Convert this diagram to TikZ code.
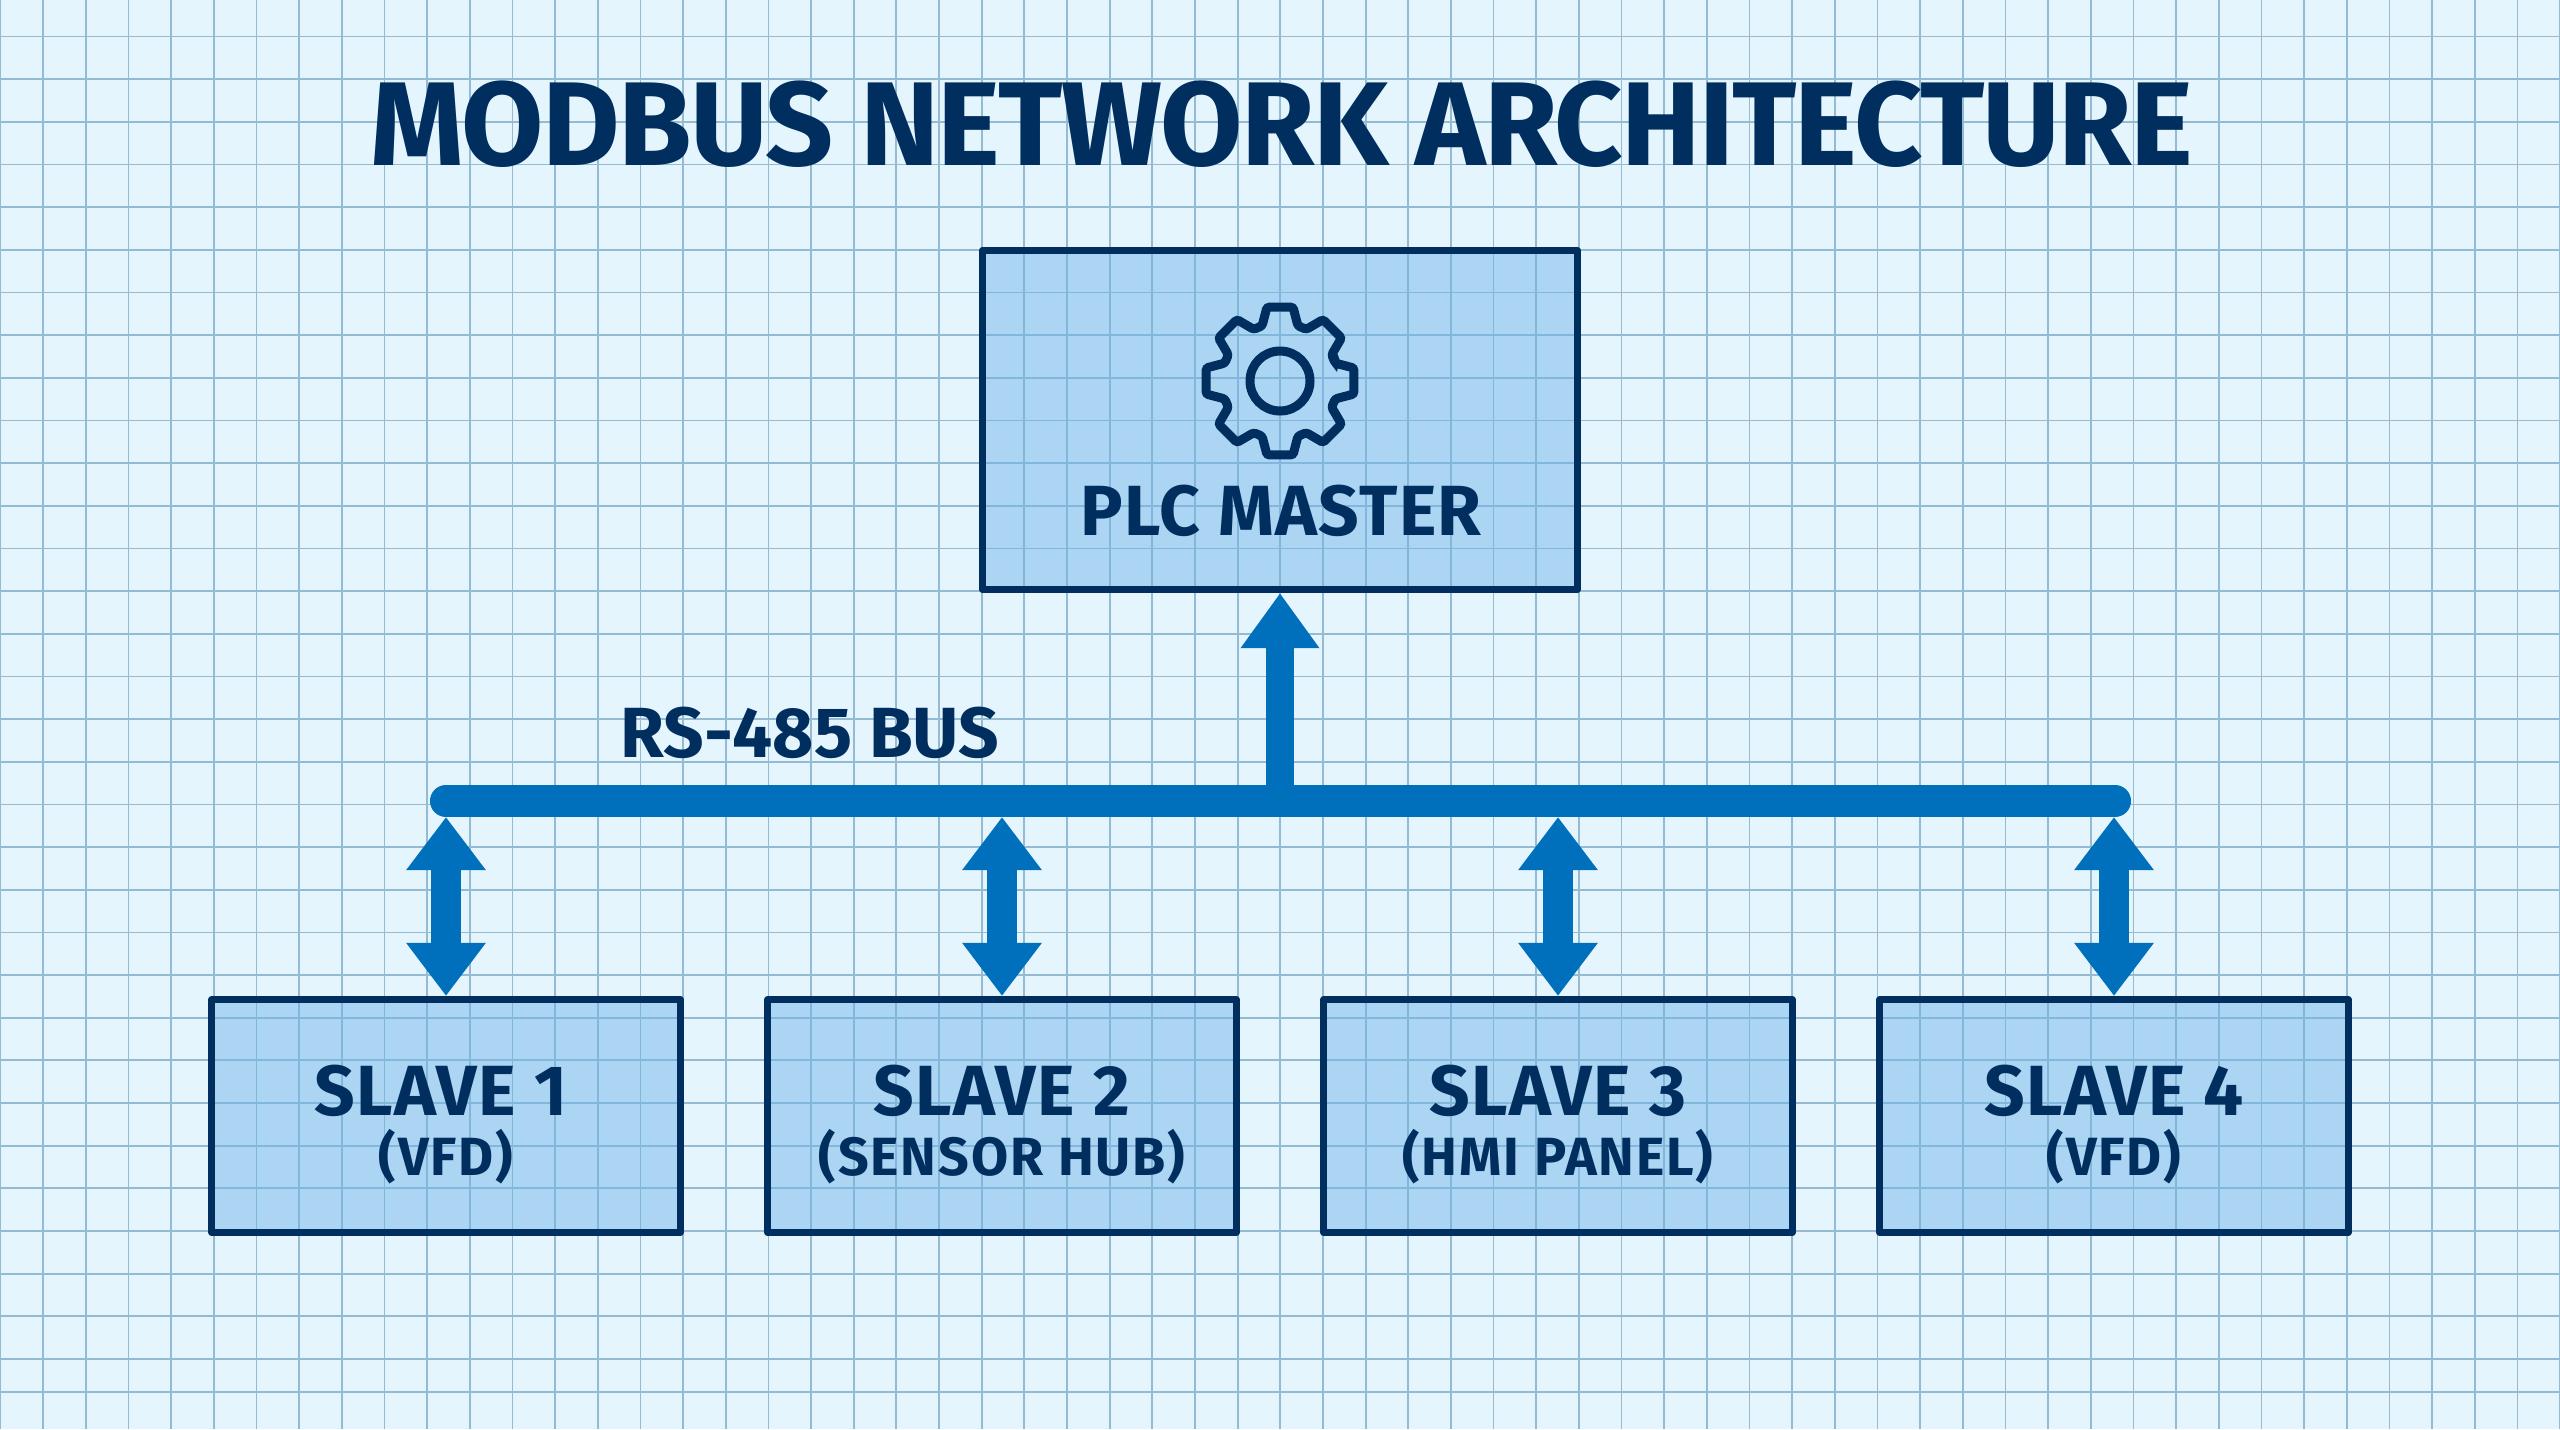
\documentclass[tikz,border=0pt]{standalone}
\usepackage{fontspec}
\setmainfont{Fira Sans}
\newfontfamily\titlefont{Fira Sans}[LetterSpace=-1.4]
\newfontfamily\boxfont{Fira Sans}[LetterSpace=2.0]
\newfontfamily\subfont{Fira Sans}[LetterSpace=3.5]
\usetikzlibrary{arrows.meta}

\definecolor{paper}{RGB}{229,245,254}
\definecolor{gridblue}{RGB}{148,187,210}
\definecolor{navy}{RGB}{0,47,95}
\definecolor{busblue}{RGB}{0,112,189}
\definecolor{boxblue}{RGB}{109,179,231}

\tikzset{
    gridline/.style={gridblue,line width=0.5pt},
    masterbox/.style={draw=navy,line width=0.07cm,line join=round,fill=boxblue,fill opacity=0.47,text opacity=1,
        minimum width=5.95cm,minimum height=3.39cm},
    slavebox/.style={draw=navy,line width=0.07cm,line join=round,fill=boxblue,fill opacity=0.47,text opacity=1,
        minimum width=4.68cm,minimum height=2.33cm},
    titletext/.style={navy,anchor=base,font=\fontsize{33.9pt}{36pt}\titlefont\bfseries},
    maintext/.style={navy,anchor=base,font=\fontsize{20.2pt}{22pt}\boxfont\bfseries},
    bustext/.style={navy,anchor=base,font=\fontsize{20.2pt}{22pt}\bfseries},
    subtext/.style={navy,anchor=base,font=\fontsize{15.3pt}{17pt}\subfont\bfseries},
    busline/.style={busblue,line width=0.32cm,line cap=round},
    tapboth/.style={busblue,line width=0.3cm,
        {Triangle[length=0.53cm,width=0.76cm]}-{Triangle[length=0.53cm,width=0.76cm]}},
    tapup/.style={busblue,line width=0.28cm,-{Triangle[length=0.55cm,width=0.75cm]}},
    gearline/.style={navy,line width=0.09cm,rounded corners=0.7pt},
}

\begin{document}
\begin{tikzpicture}[x=0.01cm,y=-0.01cm]

    \useasboundingbox(0,0)rectangle(2560,1429);
    \fill[paper](0,0)rectangle(2560,1429);
    \foreach \gx in {0,...,60}
        \draw[gridline]({\gx*42.66+0.5},0)--({\gx*42.66+0.5},1429);
    \foreach \gy in {0,...,31}
        \draw[gridline](0,{\gy*42.66+36.5})--(2560,{\gy*42.66+36.5});
    \draw[gridline](0,1392)--(2560,1392);

    \node[titletext](title)at(1282,165){MODBUS NETWORK ARCHITECTURE};

    \node[masterbox](master)at(1280,420){};
    \node[maintext](mastername)at(1281,535){PLC MASTER};
    \begin{scope}[shift={(1280,381)}]
        \draw[gearline](-18:58)
            \foreach \a in {0,45,...,315}{
                --(\a-18:58)--(\a-10:75)--(\a+10:75)--(\a+18:58)
            }--cycle;
        \draw[navy,line width=0.09cm](0,0)circle(30);
    \end{scope}

    \node[bustext](busname)at(810,757){RS-485 BUS};
    \coordinate(busleft)at(446,801);
    \coordinate(busright)at(2115,801);
    \coordinate(tapm)at(1280,801);
    \coordinate(tap1)at(446,817);
    \coordinate(tap2)at(1002,817);
    \coordinate(tap3)at(1558,817);
    \coordinate(tap4)at(2114,817);
    \draw[busline](busleft)--(busright);

    \node[slavebox](slave1)at(446,1116){};
    \node[slavebox](slave2)at(1002,1116){};
    \node[slavebox](slave3)at(1558,1116){};
    \node[slavebox](slave4)at(2114,1116){};

    \node[maintext](slave1name)at(441,1115){SLAVE 1};
    \node[subtext](slave1sub)at(446,1175){(VFD)};
    \node[maintext](slave2name)at(1002,1115){SLAVE 2};
    \node[subtext](slave2sub)at(1002,1175){(SENSOR HUB)};
    \node[maintext](slave3name)at(1558,1115){SLAVE 3};
    \node[subtext](slave3sub)at(1558,1175){(HMI PANEL)};
    \node[maintext](slave4name)at(2114,1115){SLAVE 4};
    \node[subtext](slave4sub)at(2114,1175){(VFD)};

    \draw[tapup](tapm)--(master.south);
    \draw[tapboth](tap1)--(slave1.north);
    \draw[tapboth](tap2)--(slave2.north);
    \draw[tapboth](tap3)--(slave3.north);
    \draw[tapboth](tap4)--(slave4.north);

\end{tikzpicture}
\end{document}
